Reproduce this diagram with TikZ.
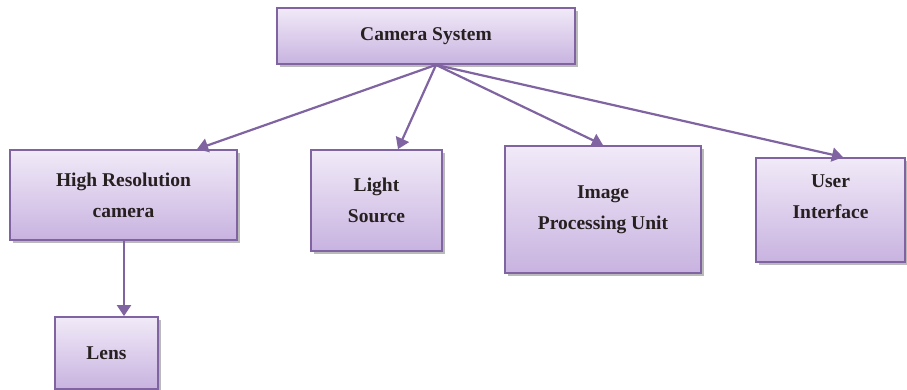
\documentclass[tikz,border=0pt]{standalone}
\usepackage{fontspec}
\setmainfont{Liberation Serif}
\usetikzlibrary{arrows.meta,shadows,calc}
\definecolor{boxline}{HTML}{8064A2}
\definecolor{boxtop}{HTML}{F1EAF8}
\definecolor{boxbot}{HTML}{C8B3E0}
\definecolor{ink}{HTML}{262020}
\tikzset{
  block/.style={draw=boxline, line width=1.8pt, top color=boxtop, bottom color=boxbot,
    drop shadow={shadow xshift=2.5pt, shadow yshift=-3pt, fill=black!45, opacity=0.6},
    align=center, text=ink, inner sep=0pt,
    font=\fontsize{19.5}{31}\selectfont\bfseries},
  link/.style={draw=boxline, line width=2.2pt,
    -{Triangle[width=14pt,length=11pt]}}
}
\begin{document}
\begin{tikzpicture}[x=1pt,y=1pt]
\useasboundingbox (0,0) rectangle (907,-389);
\fill[white] (0,0) rectangle (907,-389);

% boxes
\node[block, minimum width=298pt, minimum height=56pt] (cam) at (426,-36) {Camera System};
\node[block, minimum width=227pt, minimum height=90pt] (hrc) at (123.5,-195) {High Resolution\\camera};
\node[block, minimum width=131pt, minimum height=101pt] (light) at (376.5,-200.5) {Light\\Source};
\node[block, minimum width=196pt, minimum height=127pt] (ipu) at (603,-209.5) {Image\\Processing Unit};
\node[block, minimum width=149pt, minimum height=104pt, text depth=26pt] (ui) at (830.5,-210) {User\\Interface};
\node[block, minimum width=103pt, minimum height=72pt] (lens) at (106.5,-353) {Lens};

% connectors
\coordinate (hub) at ($(cam.south)+(10,0)$);
\coordinate (drop) at ([xshift=0.5pt]hrc.south);
\draw[link] (hub) -- ([xshift=73.5pt]hrc.north);
\draw[link] (hub) -- ([xshift=21.5pt]light.north);
\draw[link] (hub) -- (ipu.north);
\draw[link] (hub) -- ([xshift=12.5pt]ui.north);
\draw[link] (drop) -- (lens.north -| drop);
\end{tikzpicture}
\end{document}
